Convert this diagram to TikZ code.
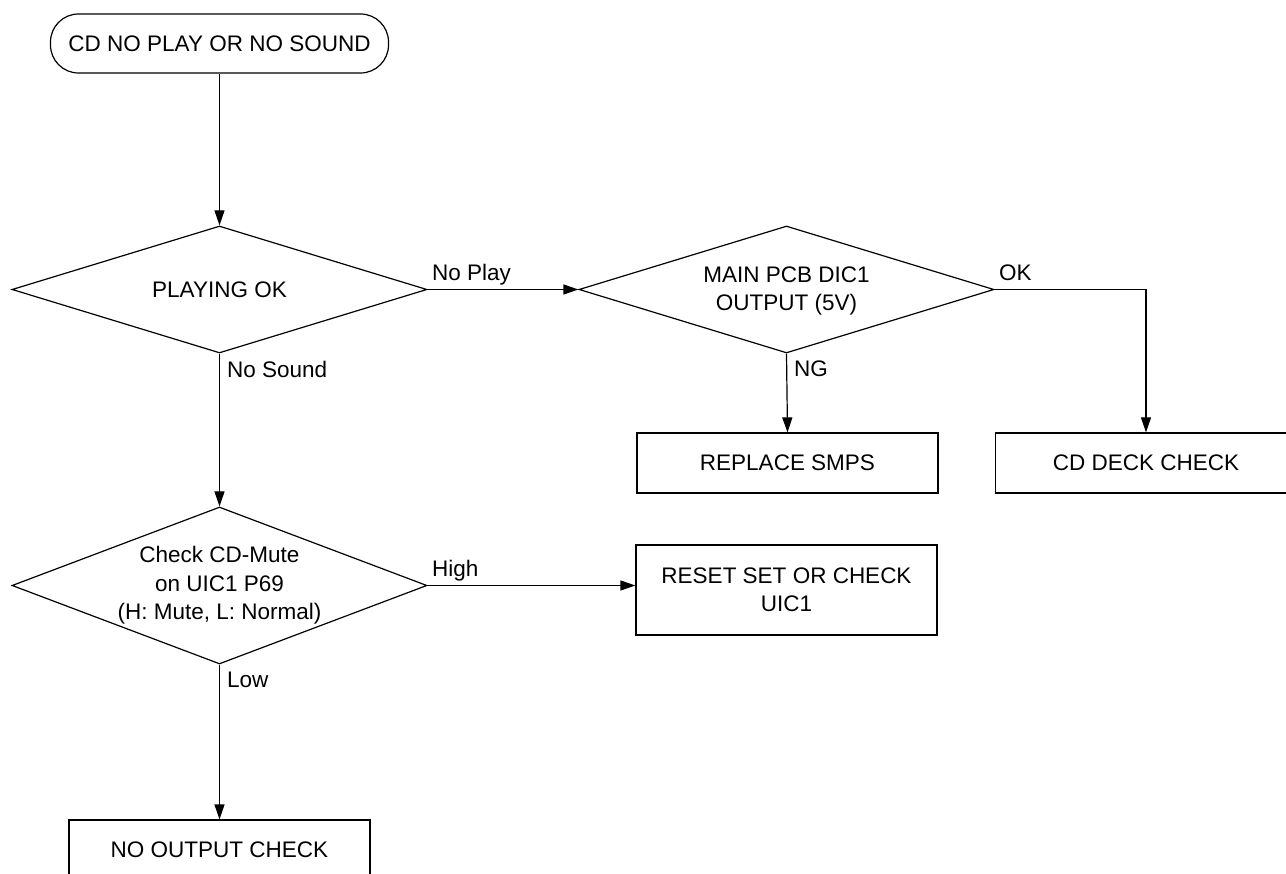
\documentclass[tikz,border=0pt]{standalone}
\usepackage{fontspec}
\setmainfont{Liberation Sans}
\usepackage{tikz}
\usetikzlibrary{arrows.meta, shapes.geometric}

\begin{document}
\begin{tikzpicture}[x=1pt, y=-1pt,
    every node/.style={font=\fontsize{22.5}{28.5}\selectfont},
    arrow/.style={line width=1.2pt, -{Triangle[length=15pt,width=10pt]}},
    terminal/.style={draw, line width=1.2pt, rectangle, rounded corners=28pt, minimum width=338pt, minimum height=59pt},
    decision/.style={draw, line width=1.2pt, diamond, inner sep=0pt, minimum width=415pt},
    process/.style={draw, line width=1.2pt, rectangle, minimum width=301pt, align=center},
    tag/.style={inner sep=0pt}]
        % Page frame
        \useasboundingbox (0,0) rectangle (1286,874);
        \clip (0,0) rectangle (1286,874);

        % Start
        \node[terminal] (start) at (219.5,43.5) {CD NO PLAY OR NO SOUND};

        % Decisions
        \node[decision, minimum height=127pt] (play) at (219.5,289.5) {};
        \node (play text) at (play) {PLAYING OK};
        \node[decision, minimum height=127pt] (dic) at (786.5,289.5) {};
        \node[align=center] (dic text) at (786.5,291) {MAIN PCB DIC1\\OUTPUT (5V)};
        \node[decision, minimum height=157pt] (mute) at (219.5,585.5) {};
        \node[align=center] (mute text) at (mute) {Check CD-Mute\\on UIC1 P69\\(H: Mute, L: Normal)};

        % Boxes
        \node[process, minimum height=60pt] (smps) at (787.5,463) {REPLACE SMPS};
        \node[process, minimum height=60pt] (deck) at (1146,463) {CD DECK CHECK};
        \node[process, minimum height=90pt] (reset) at (786.5,590) {RESET SET OR CHECK\\UIC1};
        \node[process, minimum height=60pt] (noout) at (219.5,850) {NO OUTPUT CHECK};

        % Connectors
        \draw[arrow] (start.south) -- (play.north);
        \draw[arrow] (play.east) -- node[pos=0, tag, anchor=base west, xshift=4pt, yshift=9pt] {No Play} (dic.west);
        \draw[arrow] (dic.east) -| node[pos=0, tag, anchor=base west, xshift=4pt, yshift=9pt] {OK} (deck.north);
        \draw[arrow] (dic.south) -- node[pos=0, tag, anchor=north west, xshift=7pt, yshift=-7pt] {NG} (smps.north);
        \draw[arrow] (play.south) -- node[pos=0, tag, anchor=north west, xshift=7pt, yshift=-7pt] {No Sound} (mute.north);
        \draw[arrow] (mute.east) -- node[pos=0, tag, anchor=base west, xshift=4pt, yshift=9pt] {High} (mute.east -| reset.west);
        \draw[arrow] (mute.south) -- node[pos=0, tag, anchor=north west, xshift=7pt, yshift=-7pt] {Low} (noout.north);
    \end{tikzpicture}
\end{document}
